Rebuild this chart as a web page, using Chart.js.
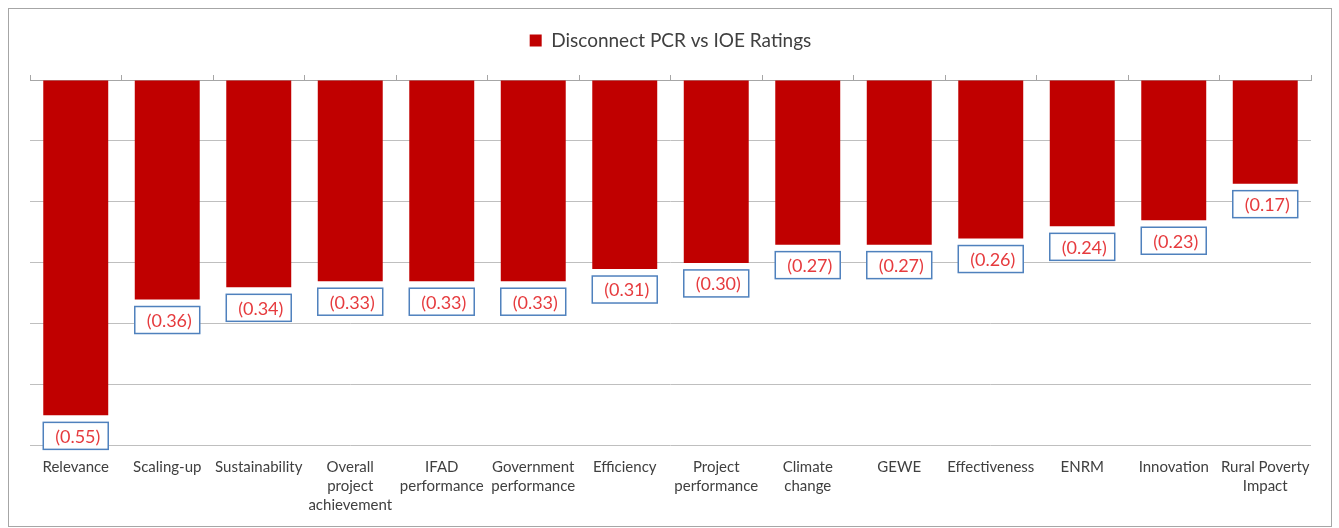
<!DOCTYPE html>
<html>
<head>
<meta charset="utf-8">
<script src="https://cdn.jsdelivr.net/npm/chart.js@4.4.1/dist/chart.umd.min.js"></script>
<style>
  html, body { margin: 0; padding: 0; background: #ffffff; }
  #marco {
    position: absolute;
    left: 8px; top: 8px;
    width: 1322px; height: 517px;
    border: 1px solid #a6a6a6;
    background: #ffffff;
  }
  #marco canvas { display: block; }
</style>
</head>
<body>
<div id="marco"><canvas id="grafico" width="1322" height="517"></canvas></div>
<script>
// --- Datos ---
const categorias = [
    'Relevance',
    'Scaling-up',
    'Sustainability',
    ['Overall', 'project', 'achievement'],
    ['IFAD', 'performance'],
    ['Government', 'performance'],
    'Efficiency',
    ['Project', 'performance'],
    ['Climate', 'change'],
    'GEWE',
    'Effectiveness',
    'ENRM',
    'Innovation',
    ['Rural Poverty', 'Impact']
];

// brecha entre calificaciones PCR e IOE (negativas)
const desconexion = [-0.55, -0.36, -0.34, -0.33, -0.33, -0.33, -0.31, -0.30, -0.27, -0.27, -0.26, -0.24, -0.23, -0.17];

const fuente = 'Lato, "Open Sans", sans-serif';

// Etiqueta con recuadro debajo de cada barra
const etiquetasCaja = {
    id: 'etiquetasCaja',
    afterDatasetsDraw(chart) {
        const ctx = chart.ctx;
        const meta = chart.getDatasetMeta(0);
        const valores = chart.data.datasets[0].data;
        ctx.save();
        meta.data.forEach((barra, i) => {
            const w = barra.width;
            const x0 = barra.x - w / 2;
            const y0 = barra.y + 7;
            const h = 27;
            ctx.fillStyle = '#ffffff';
            ctx.fillRect(x0, y0, w, h);
            ctx.strokeStyle = '#4f81bd';
            ctx.lineWidth = 1.5;
            ctx.strokeRect(x0, y0, w, h);
            ctx.fillStyle = '#e63b3e';
            ctx.font = '18px ' + fuente;
            ctx.textAlign = 'center';
            ctx.textBaseline = 'middle';
            const texto = '(' + Math.abs(valores[i]).toFixed(2) + ')';
            ctx.fillText(texto, barra.x + 2, y0 + h / 2 + 1);
        });
        ctx.restore();
    }
};

const ctx = document.getElementById('grafico').getContext('2d');

new Chart(ctx, {
    type: 'bar',
    data: {
        labels: categorias,
        datasets: [{
            label: 'Disconnect PCR vs IOE Ratings',
            data: desconexion,
            backgroundColor: '#c00000',
            borderWidth: 0,
            categoryPercentage: 1.0,
            barPercentage: 0.71
        }]
    },
    options: {
        responsive: false,
        animation: false,
        layout: {
            padding: { left: 21, right: 20, top: 10, bottom: 7 }
        },
        plugins: {
            tooltip: { enabled: false },
            legend: {
                display: true,
                position: 'top',
                labels: {
                    color: '#404040',
                    boxWidth: 12,
                    boxHeight: 12,
                    padding: 12,
                    font: { family: fuente, size: 19 }
                }
            }
        },
        scales: {
            x: {
                position: 'bottom',
                grid: { display: false },
                border: { display: false },
                ticks: {
                    color: '#404040',
                    maxRotation: 0,
                    autoSkip: false,
                    padding: 4,
                    font: { family: fuente, size: 15, lineHeight: 1.27 }
                }
            },
            x2: {
                type: 'category',
                labels: categorias,
                position: 'top',
                offset: true,
                afterFit(scale) { scale.height = 20; },
                grid: {
                    offset: true,
                    drawOnChartArea: false,
                    tickLength: 5,
                    color: '#a6a6a6'
                },
                border: { display: true, color: '#a6a6a6' },
                ticks: { display: false }
            },
            y: {
                min: -0.6,
                max: 0,
                ticks: { display: false, stepSize: 0.1 },
                grid: { color: '#bfbfbf', drawTicks: false },
                border: { display: false }
            }
        }
    },
    plugins: [etiquetasCaja]
});
</script>
</body>
</html>
